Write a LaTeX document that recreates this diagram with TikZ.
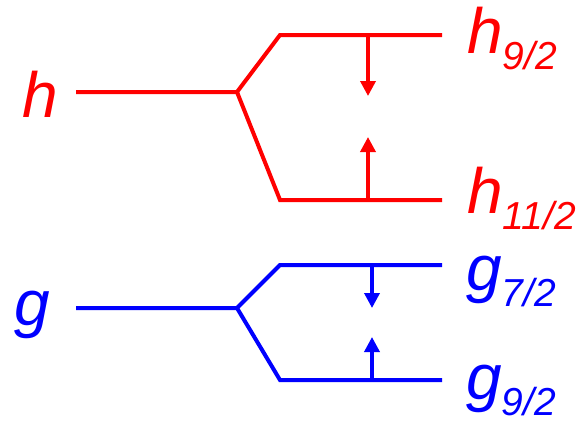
\documentclass[tikz,border=0pt]{standalone}
\usepackage{fontspec}
\setmainfont{Liberation Sans}
\usetikzlibrary{arrows.meta}
\definecolor{lvred}{RGB}{255,0,0}
\definecolor{lvblue}{RGB}{0,0,255}
\tikzset{
  level/.style={line width=4pt, line cap=butt, line join=miter},
  shift arrow/.style={line width=3.5pt, -{Triangle[width=15pt,length=15pt]}},
  biglabel/.style={anchor=base west, inner sep=0pt, font=\itshape\fontsize{64}{64}\selectfont},
}
\newcommand{\sublbl}[1]{\raisebox{-16pt}{\fontsize{39}{39}\selectfont #1}}
\begin{document}
\begin{tikzpicture}[x=1pt,y=-1pt]
\useasboundingbox (0,0) rectangle (581,421);
% red h
\begin{scope}[lvred]
\coordinate (hL) at (76,92);
\coordinate (hB) at (237,92);
\coordinate (hUc) at (280,35);
\coordinate (hUe) at (442,35);
\coordinate (hDc) at (280,200);
\coordinate (hDe) at (442,200);
\coordinate (hA1) at (368,35);
\coordinate (hA1t) at (368,96);
\coordinate (hA2) at (368,200);
\coordinate (hA2t) at (368,137);
\draw[level] (hL) -- (hB) -- (hUc) -- (hUe);
\draw[level] (hB) -- (hDc) -- (hDe);
\draw[shift arrow] (hA1) -- (hA1t);
\draw[shift arrow] (hA2) -- (hA2t);
\node[biglabel, text=lvred] (hlab) at (22,117) {h};
\node[biglabel, text=lvred] (h92) at (467,53) {h\sublbl{9/2}};
\node[biglabel, text=lvred] (h112) at (467,213) {h\sublbl{11/2}};
\end{scope}
% blue g
\begin{scope}[lvblue]
\coordinate (gL) at (76,308);
\coordinate (gB) at (237,308);
\coordinate (gUc) at (280,265);
\coordinate (gUe) at (442,265);
\coordinate (gDc) at (280,380);
\coordinate (gDe) at (442,380);
\coordinate (gA1) at (372,265);
\coordinate (gA1t) at (372,308);
\coordinate (gA2) at (372,380);
\coordinate (gA2t) at (372,337);
\draw[level] (gL) -- (gB) -- (gUc) -- (gUe);
\draw[level] (gB) -- (gDc) -- (gDe);
\draw[shift arrow] (gA1) -- (gA1t);
\draw[shift arrow] (gA2) -- (gA2t);
\node[biglabel, text=lvblue] (glab) at (14,325) {g};
\node[biglabel, text=lvblue] (g72) at (466,290) {g\sublbl{7/2}};
\node[biglabel, text=lvblue] (g92) at (466,399) {g\sublbl{9/2}};
\end{scope}
\end{tikzpicture}
\end{document}
